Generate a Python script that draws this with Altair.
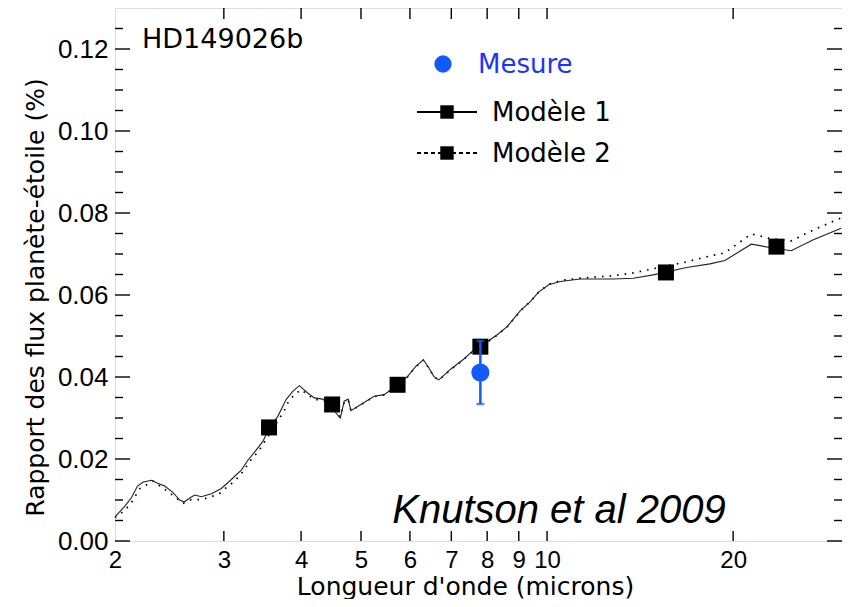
import altair as alt
import pandas as pd

# Model 1 (solid line) spectrum
m1_wl = [2.00, 2.075, 2.127, 2.175, 2.222, 2.292, 2.334, 2.407, 2.483, 2.545, 2.587, 2.642,
         2.691, 2.759, 2.864, 2.972, 3.085, 3.201, 3.281, 3.363, 3.469, 3.555, 3.668, 3.783,
         3.878, 3.974, 4.100, 4.202, 4.335, 4.488, 4.555, 4.629, 4.697, 4.768, 4.816, 4.998,
         5.251, 5.450, 5.727, 5.945, 6.131, 6.309, 6.441, 6.562, 6.684, 6.981, 7.335, 7.612,
         7.853, 7.951, 8.303, 8.618, 9.053, 9.395, 9.689, 10.06, 10.50, 11.31, 12.80, 13.79,
         14.85, 16.82, 18.34, 19.39, 21.40, 22.91, 24.83, 26.91, 29.9]
m1_flux = [0.0059, 0.0085, 0.0106, 0.0134, 0.0144, 0.0148, 0.0142, 0.0134, 0.0118, 0.0100, 0.0095, 0.0105,
           0.0112, 0.0108, 0.0115, 0.0128, 0.0150, 0.0173, 0.0197, 0.0217, 0.0243, 0.0276, 0.0304, 0.0345,
           0.0365, 0.0379, 0.0361, 0.0349, 0.0346, 0.0336, 0.0312, 0.0300, 0.0341, 0.0346, 0.0318, 0.0333,
           0.0353, 0.0357, 0.0380, 0.0401, 0.0426, 0.0442, 0.0422, 0.0401, 0.0393, 0.0419, 0.0444, 0.0466,
           0.0472, 0.0483, 0.0503, 0.0523, 0.0562, 0.0584, 0.0607, 0.0625, 0.0633, 0.0639, 0.0639, 0.0641,
           0.0649, 0.0667, 0.0676, 0.0684, 0.0724, 0.0716, 0.0708, 0.0734, 0.0763]

# Model 2 (dotted line) spectrum
m2_wl = [2.00, 2.075, 2.122, 2.194, 2.306, 2.438, 2.578, 2.658, 2.759, 2.864, 2.953, 3.027,
         3.122, 3.201, 3.322, 3.406, 3.469, 3.622, 3.751, 3.807, 3.902, 4.000, 4.100, 4.202,
         4.335, 4.488, 4.555, 4.629, 4.697, 4.768, 4.816, 4.998, 5.251, 5.450, 5.727, 5.945,
         6.131, 6.309, 6.441, 6.562, 6.684, 6.981, 7.335, 7.612, 7.853, 7.951, 8.303, 8.618,
         9.053, 9.395, 9.689, 10.06, 10.50, 11.31, 12.80, 13.79, 14.85, 16.82, 18.34, 19.39,
         21.40, 22.91, 24.83, 26.91, 29.9]
m2_flux = [0.0057, 0.0075, 0.0092, 0.0128, 0.0146, 0.0120, 0.0092, 0.0101, 0.0101, 0.0108, 0.0116, 0.0130,
           0.0146, 0.0164, 0.0199, 0.0217, 0.0235, 0.0280, 0.0316, 0.0337, 0.0357, 0.0369, 0.0357, 0.0345,
           0.0344, 0.0334, 0.0311, 0.0303, 0.0339, 0.0344, 0.0318, 0.0332, 0.0352, 0.0356, 0.0379, 0.0400,
           0.0425, 0.0441, 0.0421, 0.0400, 0.0392, 0.0418, 0.0443, 0.0465, 0.0472, 0.0482, 0.0502, 0.0522,
           0.0561, 0.0584, 0.0607, 0.0626, 0.0635, 0.0641, 0.0647, 0.0654, 0.0664, 0.0681, 0.0695, 0.0703,
           0.0749, 0.0738, 0.0732, 0.0758, 0.0788]

# Band-integrated model points
band_wl = [3.55, 4.49, 5.73, 7.80, 15.57, 23.5]
band_flux = [0.0277, 0.0333, 0.0381, 0.0474, 0.0655, 0.0718]

# Measurement
meas_wl = [7.80]
meas_flux = [0.0411]
meas_err = [0.0077]

x_ticks = [2, 3, 4, 5, 6, 7, 8, 9, 10, 20]
y_ticks = [0.0, 0.02, 0.04, 0.06, 0.08, 0.10, 0.12]
y_minor = [0.005, 0.01, 0.015, 0.025, 0.03, 0.035, 0.045, 0.05, 0.055, 0.065, 0.07, 0.075,
           0.085, 0.09, 0.095, 0.105, 0.11, 0.115, 0.125]

W, H = 727, 533
BLUE = "#1259ff"

xs = alt.Scale(type="log", domain=[2, 30], nice=False)
ys = alt.Scale(domain=[0, 0.13], nice=False, zero=False)

x_axis = alt.Axis(values=x_ticks, format="d", labelFont="Liberation Sans", labelFontSize=24,
                  labelColor="black", ticks=False, domain=False, grid=False, labelPadding=7,
                  title="Longueur d'onde (microns)", titleFont="DejaVu Sans", titleFontSize=25,
                  titleFontWeight="normal", titleColor="black", titleX=350, titleY=53,
                  titleBaseline="alphabetic", labelFlush=False)
y_axis = alt.Axis(values=y_ticks, format=".2f", labelFont="Liberation Sans", labelFontSize=26,
                  labelColor="black", ticks=False, domain=False, grid=False, labelPadding=7,
                  title="Rapport des flux planète-étoile (%)", titleFont="DejaVu Sans",
                  titleFontSize=25, titleFontWeight="normal", titleColor="black",
                  titleX=-72, titleY=289, titleBaseline="alphabetic", labelFlush=False)


def X(field):
    return alt.X(field, type="quantitative", scale=xs, axis=x_axis)


def Y(field):
    return alt.Y(field, type="quantitative", scale=ys, axis=y_axis)


df1 = pd.DataFrame({"wl": m1_wl, "flux": m1_flux})
df2 = pd.DataFrame({"wl": m2_wl, "flux": m2_flux})
dfb = pd.DataFrame({"wl": band_wl, "flux": band_flux})
dfm = pd.DataFrame({"wl": meas_wl, "flux": meas_flux,
                    "lo": [f - e for f, e in zip(meas_flux, meas_err)],
                    "hi": [f + e for f, e in zip(meas_flux, meas_err)]})

line1 = alt.Chart(df1).mark_line(color="#222222", strokeWidth=1.1).encode(x=X("wl"), y=Y("flux"))
line2 = alt.Chart(df2).mark_line(color="black", strokeWidth=1.7, strokeDash=[1.6, 6]).encode(
    x=X("wl"), y=Y("flux"))
squares = alt.Chart(dfb).mark_square(color="black", size=256, opacity=1).encode(x=X("wl"), y=Y("flux"))
err = alt.Chart(dfm).mark_rule(color=BLUE, strokeWidth=2.5).encode(
    x=X("wl"), y=Y("lo"), y2="hi")
cap_lo = alt.Chart(dfm).mark_tick(color=BLUE, orient="horizontal", size=8, thickness=2.5).encode(
    x=X("wl"), y=Y("lo"))
cap_hi = alt.Chart(dfm).mark_tick(color=BLUE, orient="horizontal", size=8, thickness=2.5).encode(
    x=X("wl"), y=Y("hi"))
meas = alt.Chart(dfm).mark_circle(color=BLUE, size=330, opacity=1).encode(x=X("wl"), y=Y("flux"))

# inward ticks
dyt = pd.DataFrame({"v": y_ticks})
dym = pd.DataFrame({"v": y_minor})
dxt = pd.DataFrame({"v": x_ticks[1:]})
tick_style = dict(color="black", strokeWidth=1.4)
yl_major = alt.Chart(dyt).mark_rule(**tick_style).encode(y=Y("v"), x=alt.value(0), x2=alt.value(15))
yl_minor = alt.Chart(dym).mark_rule(**tick_style).encode(y=Y("v"), x=alt.value(0), x2=alt.value(8))
yr_major = alt.Chart(dyt).mark_rule(**tick_style).encode(y=Y("v"), x=alt.value(W - 15), x2=alt.value(W))
yr_minor = alt.Chart(dym).mark_rule(**tick_style).encode(y=Y("v"), x=alt.value(W - 8), x2=alt.value(W))
xb = alt.Chart(dxt).mark_rule(**tick_style).encode(x=X("v"), y=alt.value(H - 10), y2=alt.value(H))
xt = alt.Chart(dxt).mark_rule(**tick_style).encode(x=X("v"), y=alt.value(0), y2=alt.value(11))

# annotations / legend
one = pd.DataFrame({"a": [0]})
hd = alt.Chart(one).mark_text(text="HD149026b", font="DejaVu Sans", fontSize=27, align="left",
                              baseline="alphabetic", color="black").encode(x=alt.value(27), y=alt.value(40))
knut = alt.Chart(one).mark_text(text="Knutson et al 2009", font="Liberation Sans", fontSize=40,
                                fontStyle="italic", align="center", baseline="alphabetic",
                                color="black").encode(x=alt.value(444), y=alt.value(515))
leg_dot = alt.Chart(one).mark_circle(color=BLUE, size=300, opacity=1).encode(
    x=alt.value(328), y=alt.value(56))
leg_t1 = alt.Chart(one).mark_text(text="Mesure", font="DejaVu Sans", fontSize=26, align="left",
                                  baseline="alphabetic", color="#1a35ff").encode(x=alt.value(363), y=alt.value(65))
leg_l1 = alt.Chart(one).mark_rule(color="black", strokeWidth=2.2).encode(
    x=alt.value(302), x2=alt.value(362), y=alt.value(104))
leg_s1 = alt.Chart(one).mark_square(color="black", size=180, opacity=1).encode(
    x=alt.value(332), y=alt.value(104))
leg_t2 = alt.Chart(one).mark_text(text="Modèle 1", font="DejaVu Sans", fontSize=26, align="left",
                                  baseline="alphabetic", color="black").encode(x=alt.value(377), y=alt.value(113))
leg_l2 = alt.Chart(one).mark_rule(color="black", strokeWidth=2.2, strokeDash=[4, 3]).encode(
    x=alt.value(302), x2=alt.value(362), y=alt.value(145))
leg_s2 = alt.Chart(one).mark_square(color="black", size=180, opacity=1).encode(
    x=alt.value(332), y=alt.value(145))
leg_t3 = alt.Chart(one).mark_text(text="Modèle 2", font="DejaVu Sans", fontSize=26, align="left",
                                  baseline="alphabetic", color="black").encode(x=alt.value(377), y=alt.value(154))

chart = alt.layer(
    line2, line1, squares, err, cap_lo, cap_hi, meas,
    yl_major, yl_minor, yr_major, yr_minor, xb, xt,
    hd, knut, leg_dot, leg_t1, leg_l1, leg_s1, leg_t2, leg_l2, leg_s2, leg_t3,
).properties(
    width=W, height=H,
    autosize=alt.AutoSizeParams(type="none"),
    padding={"left": 107, "top": 0, "right": 0, "bottom": 58},
).configure_view(stroke="black", strokeWidth=1.5).configure(background="white")

chart.save("out.html", embed_options={"renderer": "svg", "actions": False})
